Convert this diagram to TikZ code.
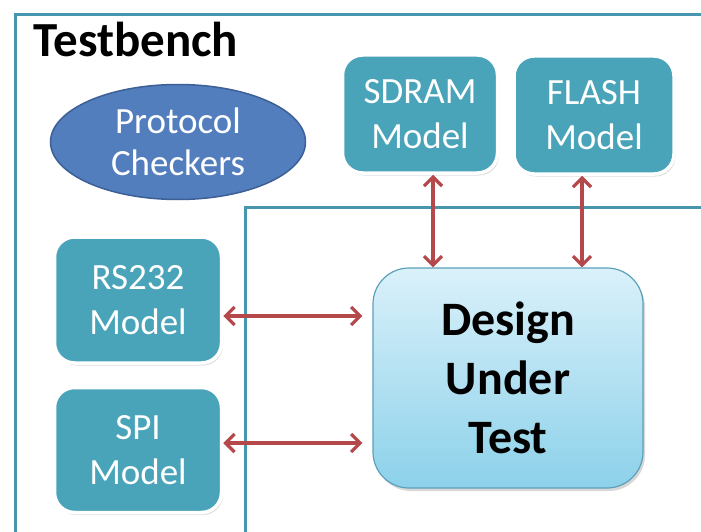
\documentclass[tikz,border=0pt]{standalone}
\usepackage{fontspec}
\setmainfont{Carlito}
\usetikzlibrary{arrows.meta,shadows,shapes.geometric}
\definecolor{frameteal}{RGB}{70,150,175}
\definecolor{boxteal}{RGB}{74,164,185}
\definecolor{ellblue}{RGB}{82,126,190}
\definecolor{ellborder}{RGB}{60,96,150}
\definecolor{duttop}{RGB}{218,241,250}
\definecolor{dutbot}{RGB}{140,209,234}
\definecolor{dutborder}{RGB}{92,160,185}
\definecolor{arrowred}{RGB}{180,72,74}
\tikzset{
  frameline/.style={draw=frameteal, line width=3pt},
  modelbox/.style={draw=white, line width=3.5pt, fill=boxteal, rounded corners=20pt,
    text=white, align=center, font=\fontsize{37}{45}\selectfont,
    drop shadow={shadow xshift=1.5pt, shadow yshift=-2.5pt, opacity=0.25}},
  dutbox/.style={draw=dutborder, line width=1.2pt, rounded corners=36pt,
    top color=duttop, bottom color=dutbot, align=center,
    font=\fontsize{48}{59}\selectfont\bfseries,
    drop shadow={shadow xshift=2pt, shadow yshift=-3pt, opacity=0.3}},
  checker/.style={ellipse, draw=ellborder, line width=1.5pt, fill=ellblue, text=white,
    align=center, font=\fontsize{37}{42}\selectfont, inner sep=0pt},
  link/.style={draw=arrowred, line width=3.2pt,
    {Straight Barb[length=9pt,width=18pt]}-{Straight Barb[length=9pt,width=18pt]}}
}
\begin{document}
\begin{tikzpicture}[x=1pt,y=-1pt]
\useasboundingbox (0,0) rectangle (701,532);
\begin{scope}
\clip (0,0) rectangle (701,532);
\fill[white] (0,0) rectangle (701,532);
% frames
\draw[frameline] (705,15) -- (15,15) -- (15,540);
\draw[frameline] (705,207) -- (245,207) -- (245,540);
\node[anchor=base west, font=\fontsize{49}{55}\selectfont\bfseries] (tb) at (30,57) {Testbench};
\node[checker, minimum width=255pt, minimum height=115pt] (pc) at (178,142) {Protocol\\Checkers};
\node[modelbox, minimum width=155pt, minimum height=118pt] (sdram) at (420,114) {SDRAM\\Model};
\node[modelbox, minimum width=160pt, minimum height=118pt] (flash) at (594,115) {FLASH\\Model};
\node[modelbox, minimum width=167pt, minimum height=126pt] (rs232) at (138,300) {RS232\\Model};
\node[modelbox, minimum width=167pt, minimum height=125pt] (spi) at (138,450) {SPI\\Model};
\node[dutbox, minimum width=270pt, minimum height=220pt] (dut) at (508,378) {Design\\Under\\Test};
% connectors
\draw[link] ([xshift=13pt]sdram.south) -- ([xshift=13pt]sdram.south |- dut.north);
\draw[link] ([xshift=-12pt]flash.south) -- ([xshift=-12pt]flash.south |- dut.north);
\draw[link, shorten >=10pt] ([yshift=-16pt]rs232.east) -- ([yshift=-16pt]rs232.east -| dut.west);
\draw[link, shorten >=10pt] ([yshift=7pt]spi.east) -- ([yshift=7pt]spi.east -| dut.west);
\end{scope}
\end{tikzpicture}
\end{document}
